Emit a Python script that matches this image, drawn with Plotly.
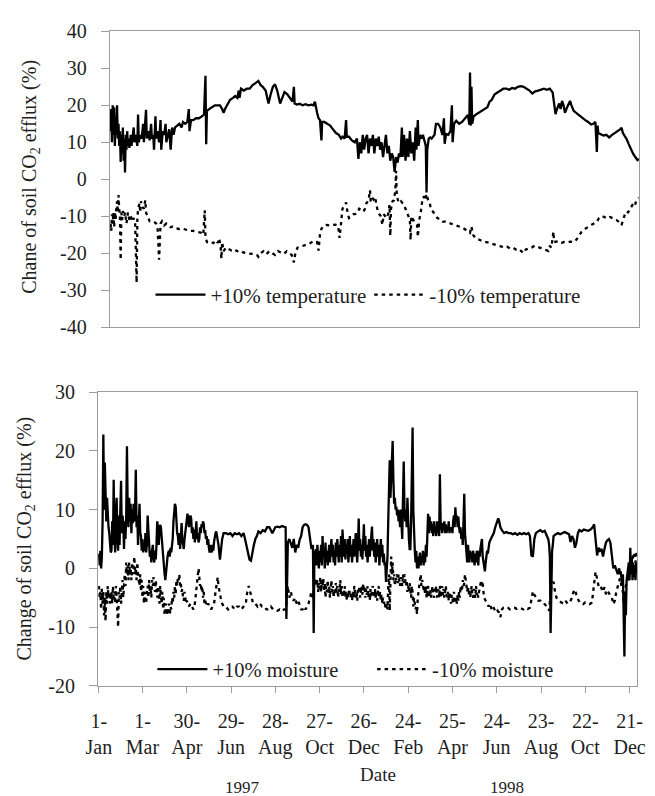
import plotly.graph_objects as go

# ---------------- data (day index from 1-Jan-1997, value %) ----------------
temp_up = [(0,13),(1,19),(2,10),(3,20),(4,12),(5,19.5),(6,9),(7,17),(8,12),(9,20),(10,11),(11,15),(12,9),(13,13),(14,4.7),(15,12),(16,7),(17,14),(18,5),(19,11),(20,1.8),(21,12),(22,8),(23,13),(24,9),(25,11),(26,8.5),(28,12),(29,9),(30,11),(32,14),(33,10),(35,12),(37,9),(38,17.5),(39,10),(41,12),(43,11),(45,15),(46,10),(48,16),(49,18.8),(50,11),(52,13),(54,10.5),(56,15),(57,11),(59,12),(60,8),(62,17),(63,11),(65,13),(67,10),(69,16),(70,8),(72,13),(74,12),(76,15),(77,10),(79,12),(81,13.5),(83,8),(85,14),(87,12),(89,14),(92,14.5),(95,15),(98,14),(100,15.5),(103,15),(106,15.5),(108,19),(109,13),(111,16),(114,16),(118,16.5),(122,16.5),(126,17),(129,17.5),(131,28),(132,9.5),(133,18.5),(136,19),(140,19.5),(144,20),(148,20),(151,20),(154,19),(156,18),(158,19),(162,20.5),(165,21.5),(169,22),(172,22.5),(175,22),(177,24),(178,22),(180,24.5),(184,24),(188,24.5),(192,24.5),(196,25.5),(200,26),(204,26.6),(207,25.5),(210,25),(214,24),(218,20.5),(221,23),(224,25),(227,25.7),(230,24),(234,20.5),(237,22),(240,23.6),(244,23),(248,22),(251,21),(253,25),(254,20.5),(257,20.2),(261,20.4),(265,20),(269,20.3),(273,20),(277,20.2),(280,20),(282,21),(285,18),(287,16.5),(289,16),(291,10.5),(292,15.5),(295,15.5),(299,15),(303,14.5),(307,13.5),(311,12.5),(315,12),(318,11),(320,11.5),(323,11),(325,16),(326,11.5),(329,11.5),(333,10.5),(337,10),(340,11),(342,5.5),(344,10),(346,7),(348,12),(350,8),(352,11),(354,12),(356,7),(358,11),(360,9),(362,12),(364,7),(366,11),(368,9),(370,11.5),(372,8),(374,10),(376,6),(378,9),(380,12),(382,7),(384,9),(386,5),(388,7),(390,6),(392,2),(394,6),(396,4.5),(398,7),(400,6),(402,14),(403,6),(405,12),(407,5),(409,11),(411,6),(413,13),(415,7),(417,10),(419,5),(421,14),(422,8),(424,16),(425,9),(427,12),(429,11),(431,12),(433,10),(435,9),(436,-3.6),(437,8),(439,11),(441,11.3),(443,11),(445,11.5),(447,12),(449,15),(452,15),(455,14),(458,12),(460,16.5),(461,9.6),(463,12.2),(466,12),(469,13),(471,20),(472,10),(474,15),(477,15.8),(481,15),(485,15.5),(489,16.5),(493,17.4),(495,14.8),(496,28.9),(497,14.5),(498,25),(499,15),(501,17),(504,17.5),(508,18),(512,18.5),(516,19),(520,19.5),(523,21),(526,21.5),(530,23),(534,23.5),(538,24),(542,24.5),(546,24.5),(550,24.2),(554,24.7),(558,24.5),(562,25),(566,25.2),(570,25),(574,24.5),(578,24),(582,23.2),(586,23.8),(590,24),(594,24.3),(598,24.5),(602,24.2),(606,24.5),(610,23.5),(612,21),(614,17.6),(616,19),(619,20.5),(621,19),(623,21.2),(625,20),(627,18),(630,19.5),(632,20.5),(634,21.2),(636,20),(639,18.5),(642,18),(645,17.5),(648,17),(651,16.5),(655,16),(659,15.5),(663,14.8),(666,15),(669,15.5),(671,7.4),(672,14.5),(673,12.5),(676,12.2),(680,11.8),(684,12),(688,11.3),(692,12),(696,12.5),(700,13),(703,13.5),(705,13.9),(707,12.5),(710,11.5),(712,10.9),(715,9.5),(718,8),(721,6.9),(724,6),(727,5.2),(729,5.5)]

temp_down = [(0,-12),(1,-14),(2,-9.5),(3,-12),(4,-9),(5,-13),(6,-9),(7,-11),(8,-8),(9,-6),(10,-9),(11,-4.3),(12,-8),(13,-10),(14,-21.8),(15,-9),(16,-11),(17,-8.6),(19,-10),(20,-9),(22,-12),(24,-9),(26,-11),(28,-10),(30,-11.5),(32,-10.5),(34,-12),(36,-28),(37,-11),(38,-8),(40,-6.5),(41,-9),(42,-6),(44,-7.5),(46,-8),(48,-5.7),(49,-9),(51,-10),(54,-11.4),(57,-11.5),(60,-11.5),(63,-12),(65,-13.5),(67,-21.8),(68,-15),(69,-12),(71,-11.4),(74,-12.5),(77,-12),(80,-12.4),(83,-13),(86,-12.8),(90,-13.2),(94,-13.5),(98,-13.3),(102,-13.6),(106,-13.8),(110,-14),(114,-14),(118,-14.2),(122,-14.5),(126,-14.5),(128,-15),(130,-8.4),(131,-15.5),(133,-17),(136,-17.2),(139,-17),(142,-17.3),(145,-16.5),(148,-17.2),(150,-16),(152,-18.5),(153,-21.5),(154,-17),(156,-19.5),(159,-18.5),(163,-19),(167,-19.3),(171,-19),(175,-19.5),(179,-19.3),(183,-19.8),(187,-20),(191,-20.1),(195,-20),(199,-20.3),(202,-20.5),(204,-21),(207,-20),(211,-19.5),(215,-20.3),(219,-19.5),(223,-20),(227,-20.5),(231,-19.5),(235,-19.8),(239,-20.2),(243,-19.5),(247,-20),(250,-20.5),(253,-22.5),(255,-20),(258,-18.5),(262,-18.3),(266,-18),(270,-17.8),(274,-17.5),(278,-17),(282,-16.7),(285,-17),(287,-19.3),(289,-15),(291,-13.4),(294,-12.6),(298,-12.4),(302,-12.5),(306,-12.4),(310,-12.3),(314,-12.6),(316,-15.9),(318,-12),(320,-8),(323,-7),(325,-6.3),(327,-9),(329,-10.5),(332,-10),(335,-9.5),(338,-9.4),(341,-9),(343,-8),(346,-8.5),(349,-8.8),(351,-8),(353,-6.5),(356,-5.7),(358,-3),(359,-6),(361,-5),(363,-5.5),(365,-4.8),(367,-7),(369,-8.8),(371,-9.5),(373,-10),(375,-12.4),(377,-9.5),(379,-10),(381,-10.5),(383,-9.5),(385,-7),(386,-15.3),(387,-8),(389,-6),(391,-5.7),(393,-3),(394,2.3),(395,-4.5),(397,-6),(399,-6.5),(401,-6),(403,-6.5),(405,-6.8),(407,-8),(409,-8.8),(411,-10),(413,-11),(414,-16.4),(415,-10),(417,-11),(419,-11.5),(421,-12),(423,-12.4),(424,-15.6),(426,-11),(428,-9),(430,-6),(432,-4.6),(434,-5.7),(436,-4),(438,-5.5),(440,-6),(442,-8),(445,-8.8),(448,-9.5),(451,-10.5),(454,-10.8),(458,-11.5),(462,-11.5),(466,-11.8),(470,-12),(474,-12.3),(478,-12.5),(481,-12.8),(485,-13),(489,-13.5),(493,-14),(496,-14.5),(498,-12.8),(500,-15),(503,-15.8),(507,-16.2),(511,-16.5),(515,-17),(519,-17),(523,-17.3),(527,-17.5),(531,-17.8),(535,-18),(539,-18.2),(543,-18.5),(547,-18.3),(551,-18.7),(555,-18.5),(559,-19),(563,-18.8),(567,-19.5),(570,-20),(573,-19),(577,-18.8),(581,-18.5),(585,-18),(589,-18.3),(593,-18.5),(597,-18.8),(601,-19),(604,-19.4),(606,-18),(608,-18.5),(610,-16),(611,-14.2),(612,-17),(615,-17),(618,-16.8),(622,-17.2),(626,-17),(630,-17.1),(634,-16.9),(638,-17),(641,-16.8),(644,-16),(647,-15),(650,-14.2),(654,-13.5),(658,-13),(662,-12.5),(666,-12),(671,-11.5),(674,-10.5),(677,-10),(681,-10.2),(685,-10.6),(689,-10.2),(694,-10.6),(698,-11),(701,-11.5),(705,-12.4),(708,-10.5),(711,-8.8),(714,-9),(717,-8),(720,-7),(723,-7.5),(725,-6),(727,-5.7),(729,-5)]

moist_up = [(0,2.5),(1,0.5),(2,3),(3,0),(4,2),(5,8),(6,22.8),(7,10),(8,18),(9,12.6),(10,8),(11,12),(12,7.5),(13,7),(14,6),(15,4.5),(16,2.7),(17,3),(18,8),(19,4),(20,15.1),(21,6),(22,2.7),(23,9),(24,12),(25,5),(26,3),(27,9),(28,4),(29,10),(30,14.9),(31,6),(32,9),(33,7.7),(34,3.3),(35,8),(36,5),(37,9),(38,20.8),(39,10),(40,7),(41,12),(42,8),(43,11),(44,6),(45,10),(46,7.7),(47,11),(48,8),(49,10),(50,16.8),(51,7),(52,9),(53,4),(54,8),(55,11),(56,6),(57,5.5),(58,3),(59,5),(60,2.7),(61,4),(62,3),(63,6),(64,2.7),(65,4),(66,9),(67,6),(68,4.4),(69,2),(70,3),(71,1),(72,3),(73,4),(74,2),(75,1),(76,3),(77,1.5),(78,4),(79,8),(80,7),(81,4),(82,6),(83,7.4),(84,7),(85,5),(86,3),(87,2),(88,0.5),(89,-1),(90,-2),(91,0),(92,1),(93,2),(94,2.7),(95,3),(96,2),(97,3.5),(98,2.7),(99,4),(100,5),(101,8),(102,10),(103,11),(104,10.5),(105,7),(106,6),(107,5.5),(108,4),(109,6),(110,3.3),(111,5),(112,7.7),(113,5),(114,4),(115,3.3),(116,5),(117,6),(118,7),(119,8.5),(120,9.3),(121,8.5),(122,7),(123,8.5),(124,9),(125,8.5),(126,6),(127,7),(128,5),(129,6.6),(130,4.4),(131,6),(132,8),(133,5),(134,6),(135,4.4),(136,5),(137,7),(138,6),(139,7.5),(140,7),(141,8),(142,7.5),(143,6),(144,6.5),(145,5),(146,5.5),(147,4),(148,5),(149,3.5),(150,2.7),(151,4),(152,3),(153,2.7),(154,4),(155,3),(156,4.5),(157,5.5),(158,6),(159,6.3),(160,5.5),(162,4),(164,1.5),(165,3),(167,5),(169,6),(172,6),(175,5.8),(178,6),(181,5.5),(184,6),(187,5.8),(190,6),(193,5.5),(196,6),(198,5),(200,4),(202,3),(204,1.5),(206,1.3),(208,3),(210,4),(212,5),(214,5.5),(216,6.3),(219,6),(222,6.5),(225,6.3),(228,7),(231,7),(233,6.5),(235,6),(237,6.5),(239,7),(242,7.1),(245,7),(248,7.2),(251,7),(253,7),(254,-8.6),(255,3),(256,4.4),(258,5),(260,4),(262,3.5),(264,5),(266,2.7),(268,4),(270,3.5),(272,4.9),(274,5.5),(276,7),(278,7.4),(280,7.5),(282,7.4),(284,7),(286,5),(288,3.3),(290,4),(291,-11),(292,3),(293,1),(294,3.3),(295,0.5),(296,4),(297,2),(298,0),(299,3),(300,1),(301,4),(302,0.5),(303,5.5),(304,2),(305,3.5),(306,0),(307,4.4),(308,1),(309,3),(310,0.5),(311,2.5),(312,4),(313,1),(314,3),(315,5),(316,2),(317,4),(318,1),(319,3),(320,0.5),(321,4.4),(322,2),(323,5),(324,3),(325,1),(326,4),(327,2),(328,5.5),(329,1),(330,6.6),(331,3),(332,2),(333,5),(334,1.5),(335,4),(336,2.5),(337,5),(338,1),(339,3),(340,5.5),(341,2),(342,4),(343,1),(344,3.5),(345,5),(346,2),(347,4),(348,6),(349,3),(350,1),(351,4),(352,8.5),(353,3),(354,5),(355,2),(356,4),(357,1.5),(358,5),(359,7.5),(360,3),(361,5.5),(362,2),(363,4),(364,1),(365,3),(366,5),(367,2),(368,4),(369,6),(370,7.1),(371,3),(372,5),(373,2),(374,4.4),(375,1),(376,3),(377,5),(378,2),(379,4),(380,0.5),(381,3),(382,5),(383,2),(384,4),(385,1),(386,2.5),(387,0.5),(388,1),(389,-2.3),(390,0),(391,2),(392,8),(393,14),(394,18.4),(395,12),(396,14.8),(397,17),(398,21.7),(399,15),(400,11),(401,12),(402,10),(403,10.5),(404,9),(405,10),(406,8),(407,9.9),(408,7),(409,10),(410,6),(411,5),(412,12),(413,18.2),(414,10),(415,8),(416,10),(417,7),(418,12),(419,6),(420,5),(421,3.3),(422,3.3),(423,8),(424,15),(425,24),(426,10),(427,5),(428,3),(429,1),(430,3),(431,0),(432,2),(433,0),(434,1.5),(435,2.7),(436,0.5),(437,2),(438,1),(439,3),(440,0.5),(441,2.7),(442,1),(443,4),(444,2),(445,5),(446,9.3),(447,6),(448,8.8),(449,6.5),(450,8),(451,6),(452,7.5),(453,5.5),(454,8),(455,6),(456,7),(457,5.5),(458,8),(459,6),(460,7),(461,5.5),(462,16),(463,8),(464,7),(465,6),(466,7.7),(467,6.5),(468,8),(469,6),(470,7.5),(471,6),(472,7),(473,6.5),(474,8),(475,6),(476,7),(477,6.5),(478,7),(479,6),(480,8),(481,9),(482,7),(483,10.4),(484,8),(485,9),(486,7),(487,8.8),(488,7),(489,6),(490,7),(491,5),(492,6),(493,4),(494,8),(495,12.7),(496,6),(497,4),(498,3.3),(499,1),(500,4),(501,2),(502,1),(503,3),(504,2),(505,2.7),(506,1),(507,3),(508,2),(509,0.5),(510,2.5),(511,1),(512,3),(513,2),(514,0.5),(515,3),(516,2),(517,3.5),(518,4.5),(519,5),(520,2),(521,1),(522,0),(523,-0.5),(524,1),(525,2),(526,3),(527,2.5),(528,3.5),(529,4.4),(531,5),(533,5.5),(535,6),(537,7),(539,8),(541,8.5),(542,8.2),(544,7),(546,6.5),(549,6),(552,6.2),(555,6),(558,6),(561,5.8),(564,6),(567,5.7),(570,6),(573,5.8),(576,6),(579,5.8),(582,6),(584,5.5),(586,2.2),(588,2),(590,5),(592,6),(595,6.3),(598,6.5),(601,6.2),(604,6.4),(607,5.5),(609,4.9),(610,4),(611,2),(612,-11),(613,1),(614,3),(615,4),(616,5.5),(619,5.8),(622,6),(625,5.8),(628,6),(631,6.2),(634,6),(637,5.8),(639,4.5),(641,5.5),(643,5),(645,3.5),(647,4.4),(649,6),(651,6.5),(654,6.3),(657,6.6),(660,6.5),(663,6.4),(666,6.6),(669,7),(671,7.5),(673,4),(675,2.2),(677,3.5),(679,3),(681,3.3),(683,2),(685,3.3),(687,4.4),(689,4.8),(691,5),(693,4.4),(695,2),(697,0),(699,0.5),(701,-0.5),(703,-1),(705,0),(706,-1),(707,-0.5),(708,-2),(709,-3),(710,-1),(711,-14),(712,-15),(713,-4),(714,-8),(715,-2),(716,-1),(717,0),(718,1),(719,-2),(720,3.5),(721,-1),(722,2),(723,-2),(724,1),(725,-1.5),(726,0.5),(727,-2),(728,1),(729,0)]

moist_down = [(0,-3),(1,-5),(2,-4),(3,-7),(4,-3.5),(5,-6),(6,-4),(7,-8),(8,-5),(9,-9),(10,-4),(11,-6),(12,-3),(13,-5),(14,-4),(15,-6),(16,-5),(17,-4),(18,-6),(19,-3),(20,-5),(21,-4),(22,-6),(23,-3),(24,-5),(25,-7),(26,-10),(27,-4),(28,-5),(29,-3),(30,-6),(31,-4),(32,-2),(33,-5),(34,-3),(35,-1),(36,-3),(37,1),(38,-1),(39,0.5),(40,-2),(41,1),(42,-1),(43,0),(44,-2),(45,1),(46,-1),(47,0),(48,2),(49,-1),(50,0),(51,-2),(52,1),(53,-1),(54,-2),(55,-3),(56,-1),(57,-4),(58,-2),(59,-5),(60,-3),(61,-6),(62,-4),(63,-5),(64,-6),(65,-4),(66,-3),(67,-5),(68,-2),(69,-4),(70,-3),(71,-5),(72,-2),(73,-3),(74,-1.5),(75,-3),(76,-4),(77,-2),(78,-3),(79,-5),(80,-3),(81,-4),(82,-6),(83,-3),(84,-5),(85,-6),(86,-4),(87,-7),(88,-5),(89,-8),(90,-7),(91,-6),(92,-8),(93,-7),(94,-7.5),(95,-6),(96,-8),(97,-6.5),(98,-7),(99,-5),(100,-6),(101,-4),(102,-5),(103,-3),(104,-4.5),(105,-2),(106,-3),(107,-1.5),(108,-2),(109,-1),(110,-3),(111,-2.5),(112,-4),(113,-3.5),(114,-5),(115,-5.5),(116,-4),(117,-5),(118,-6),(119,-5.5),(120,-6),(122,-6.5),(124,-6),(126,-6.5),(128,-7),(130,-6),(132,-4),(133,-2),(134,-1),(135,0),(136,-1.5),(137,-3),(138,-2.5),(139,-4),(140,-3),(141,-5),(142,-4),(143,-6),(144,-5.5),(146,-6.5),(148,-6),(150,-6.5),(152,-7),(154,-6.5),(156,-6),(158,-4),(160,-2),(161,-1.5),(162,-3),(163,-4),(165,-5),(167,-6),(169,-6.5),(172,-6.5),(175,-7),(178,-6.5),(181,-6.5),(184,-7),(187,-6.5),(190,-6.5),(193,-7),(196,-6.5),(199,-6),(201,-4),(203,-3),(205,-4),(207,-5),(209,-6),(212,-6),(215,-6.5),(218,-6),(221,-6.5),(224,-6.5),(227,-7),(230,-7),(233,-6.5),(236,-7),(239,-7),(242,-7.2),(245,-7),(248,-7.3),(251,-7),(253,-7),(255,-4),(256,-3),(258,-5),(260,-4),(262,-5),(264,-5.5),(266,-5),(268,-6),(270,-5.5),(272,-6.5),(274,-7),(276,-7),(278,-6.5),(280,-7),(282,-6.5),(284,-6),(286,-5),(288,-4),(290,-5),(292,-2),(293,-3),(294,-1.7),(295,-3),(296,-2),(297,-4),(298,-2.5),(299,-3.5),(300,-1.5),(301,-4),(302,-2),(303,-3),(304,-1.7),(305,-4),(306,-2.5),(307,-5),(308,-3),(309,-4),(310,-2),(311,-4.5),(312,-3),(313,-5),(314,-3.5),(315,-2),(316,-4),(317,-3),(318,-5),(319,-3.5),(320,-4.5),(321,-2.5),(322,-4),(323,-3),(324,-5),(325,-3.5),(326,-4),(327,-2),(328,-4.5),(329,-3),(330,-5),(331,-4),(332,-4.5),(333,-3),(334,-5),(335,-4),(336,-5.5),(337,-4),(338,-5),(339,-3.5),(340,-4.5),(341,-5),(342,-4),(343,-5.5),(344,-4),(345,-5),(346,-3),(347,-4.5),(348,-5),(349,-4),(350,-5.5),(351,-3.5),(352,-4),(353,-3),(354,-5),(355,-4),(356,-3),(357,-4.5),(358,-2.5),(359,-4),(360,-3),(361,-5),(362,-3.5),(363,-4.5),(364,-3),(365,-5),(366,-4),(367,-5.5),(368,-3.5),(369,-5),(370,-4),(371,-3),(372,-4.5),(373,-5),(374,-3.5),(375,-5),(376,-4),(377,-5.5),(378,-4),(379,-3),(380,-5),(381,-4),(382,-5.5),(383,-4.5),(384,-6),(385,-5),(386,-6),(387,-5.5),(388,-6.5),(389,-7),(390,-6),(391,-7),(392,-3),(393,-1),(394,-7.2),(395,0),(396,2),(397,-1),(398,1),(399,-2),(400,-1),(401,-3),(402,-1.5),(403,-2),(404,-1),(405,-2.5),(406,-1),(407,-2),(408,-3),(409,-1.5),(410,-2),(411,-3),(412,-1),(413,-2.5),(414,-1),(415,-2),(416,-3),(417,-2),(418,-4),(419,-3),(420,-4),(421,-2.5),(422,-4),(423,-5),(424,-3),(425,-4),(426,-6.5),(427,-5),(428,-6),(429,-7),(430,-6.5),(431,-7.8),(432,-5),(433,-4),(434,-3),(435,-2.5),(436,-1),(437,-3),(438,-2),(439,-2.5),(440,-4),(441,-3),(442,-4.5),(443,-3),(444,-5),(445,-4),(446,-3),(447,-5),(448,-4),(449,-3.5),(450,-5),(451,-4),(452,-3),(453,-4.5),(454,-5),(455,-3.5),(456,-4),(457,-3),(458,-5),(459,-4),(460,-3.5),(461,-5),(462,-3),(463,-4),(464,-5),(465,-3),(466,-4.5),(467,-3.5),(468,-5),(469,-4),(470,-3),(471,-4.5),(472,-5),(473,-4),(474,-5.5),(475,-4),(476,-5),(477,-6),(478,-4.5),(479,-5),(480,-6),(481,-4),(482,-5.5),(483,-6),(484,-5),(485,-6),(486,-4.5),(487,-5.5),(488,-4),(489,-5),(490,-3),(491,-4),(492,-3.5),(493,-2),(494,-3),(495,-2.5),(496,-1),(497,-2),(498,-3),(499,-4),(500,-3),(501,-4.5),(502,-3.5),(503,-5),(504,-4),(505,-3),(506,-4.5),(507,-5),(508,-3.5),(509,-4),(510,-5),(511,-3),(512,-4.5),(513,-4),(514,-5),(515,-4),(516,-3.5),(517,-2.5),(518,-2),(519,-3),(520,-2.5),(521,-4),(522,-5),(524,-5.5),(526,-6),(528,-6.5),(530,-6),(532,-7),(534,-6.5),(536,-7),(538,-7.5),(540,-7.2),(542,-7.5),(544,-8.3),(546,-7),(548,-6.7),(551,-6.8),(554,-6.7),(557,-7),(560,-6.8),(563,-6.7),(566,-6.9),(569,-6.7),(572,-6.8),(575,-7),(578,-6.7),(581,-6.9),(584,-6.7),(586,-5),(588,-3.9),(590,-4.5),(592,-5),(595,-5.5),(598,-5.5),(601,-6),(604,-6.1),(607,-6.5),(610,-7.2),(612,-4),(614,-2.5),(616,-2.3),(618,-4),(620,-5),(623,-5.5),(626,-5.8),(629,-6),(632,-5.5),(635,-6),(638,-5.8),(641,-5),(643,-4),(645,-3.6),(647,-4.5),(650,-5.5),(653,-6),(656,-6.1),(659,-5.8),(662,-6),(665,-6.1),(668,-5.8),(670,-3),(672,-1.5),(673,-0.6),(675,-2),(677,-3),(679,-2.8),(681,-3.5),(683,-4),(685,-3.2),(687,-4.4),(689,-3.8),(691,-4.2),(693,-4.4),(695,-5),(697,-6.1),(699,-5.5),(701,-4),(703,-3),(705,-2.5),(706,-1.7),(708,-3),(710,-4),(711,-6),(713,-3.4),(715,-2.5),(717,-2),(719,-1),(721,-0.5),(723,1.5),(725,2.7),(727,1),(729,3)]

tick_days = [0, 59, 119, 179, 239, 299, 359, 419, 479, 539, 599, 659, 719]
tick_labels = ["1-<br>Jan", "1-<br>Mar", "30-<br>Apr", "29-<br>Jun", "28-<br>Aug", "27-<br>Oct",
               "26-<br>Dec", "24-<br>Feb", "25-<br>Apr", "24-<br>Jun", "23-<br>Aug", "22-<br>Oct", "21-<br>Dec"]
y1_ticks = [-40, -30, -20, -10, 0, 10, 20, 30, 40]
y2_ticks = [-20, -10, 0, 10, 20, 30]

# ---------------- figure ----------------
W, H = 655, 796
FONT = "Liberation Serif, Times New Roman, serif"
TXT = "#1e1e1e"
FRAME = "#9c9c9c"
DASH = "3.5px,4px"
PAD = "\u00a0\u00a0"   # visual gap between y tick labels and tick marks


def split(pairs):
    return [p[0] for p in pairs], [p[1] for p in pairs]


def fx(px):
    return px / W


def fy(py):
    return 1 - py / H


fig = go.Figure()
for pairs, name, dash, xa, ya, leg in [
    (temp_up, "+10% temperature", "solid", "x", "y", "legend"),
    (temp_down, "-10% temperature", DASH, "x", "y", "legend2"),
    (moist_up, "+10% moisture", "solid", "x2", "y2", "legend3"),
    (moist_down, "-10% moisture", DASH, "x2", "y2", "legend4"),
]:
    xs, ys = split(pairs)
    fig.add_trace(go.Scatter(x=xs, y=ys, mode="lines", name=name, xaxis=xa, yaxis=ya,
                             legend=leg, line=dict(color="black", width=2.3, dash=dash)))

common_axis = dict(showline=True, mirror=True, linecolor=FRAME, linewidth=1.3,
                   showgrid=False, zeroline=False,
                   tickfont=dict(family=FONT, size=20, color=TXT))


def leg(xpx, ypx, size):
    return dict(orientation="h", x=fx(xpx), y=fy(ypx), xanchor="left", yanchor="middle",
                bgcolor="rgba(0,0,0,0)", borderwidth=0,
                font=dict(family=FONT, size=size, color=TXT), itemwidth=50)


fig.update_layout(
    width=W, height=H, margin=dict(l=0, r=0, t=0, b=0),
    paper_bgcolor="white", plot_bgcolor="white",
    font=dict(family=FONT, size=20, color=TXT),
    xaxis=dict(domain=[fx(100), fx(647)], range=[-1, 729.5], anchor="y",
               showticklabels=False, ticks="", **common_axis),
    yaxis=dict(domain=[fy(325), fy(21)], range=[-40, 40], anchor="x",
               tickvals=y1_ticks, ticktext=[str(v) + PAD for v in y1_ticks],
               ticks="outside", ticklen=8, tickcolor=FRAME, **common_axis),
    xaxis2=dict(domain=[fx(88), fx(645)], range=[-1, 729.5], anchor="y2",
                tickvals=tick_days, ticktext=tick_labels,
                ticks="outside", ticklen=6, tickcolor=FRAME, tickangle=0,
                ticklabelstandoff=11, **common_axis),
    yaxis2=dict(domain=[fy(694), fy(392)], range=[-20, 30], anchor="x2",
                tickvals=y2_ticks, ticktext=[str(v) + PAD for v in y2_ticks],
                ticks="outside", ticklen=8, tickcolor=FRAME, **common_axis),
    legend=leg(142, 292, 21),
    legend2=leg(368, 292, 21),
    legend3=leg(144, 677, 20.5),
    legend4=leg(371, 677, 20.5),
    showlegend=True,
)

annos = [
    dict(text="Chane of soil CO<sub>2</sub> efflux (%)", x=fx(18), y=fy(170), textangle=-90, size=20),
    dict(text="Change of soil CO<sub>2</sub> efflux (%)", x=fx(13), y=fy(543), textangle=-90, size=20),
    dict(text="Date", x=fx(377), y=fy(785), textangle=0, size=19),
    dict(text="1997", x=fx(237), y=fy(799), textangle=0, size=17),
    dict(text="1998", x=fx(510), y=fy(799), textangle=0, size=17),
]
for a in annos:
    size = a.pop("size")
    fig.add_annotation(xref="paper", yref="paper", showarrow=False, xanchor="center", yanchor="middle",
                       font=dict(family=FONT, size=size, color=TXT), **a)

fig.write_html("out.html")
